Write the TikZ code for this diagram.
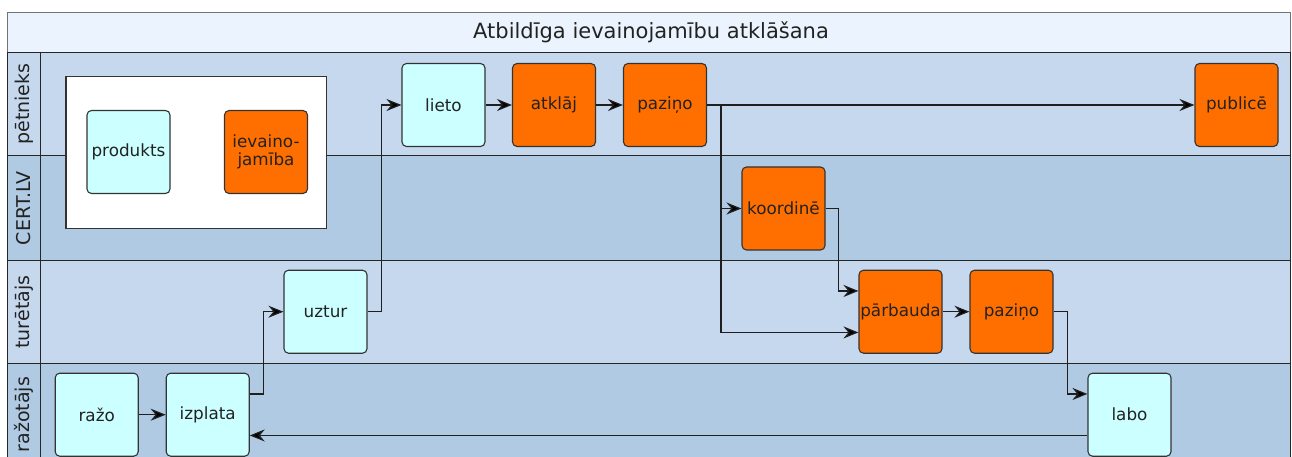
\documentclass[tikz,border=0pt]{standalone}
\usepackage{fontspec}
\setmainfont{DejaVu Sans}
\usetikzlibrary{arrows.meta}

\definecolor{titlebg}{RGB}{235,244,254}
\definecolor{lanelight}{RGB}{198,216,238}
\definecolor{lanedark}{RGB}{175,202,226}
\definecolor{actorange}{RGB}{255,111,0}
\definecolor{actcyan}{RGB}{204,255,255}
\definecolor{edgegray}{RGB}{51,51,51}
\definecolor{textgray}{RGB}{34,34,34}

\tikzset{
  task/.style={draw=edgegray, line width=1.1pt, rounded corners=4.5pt,
    minimum width=83pt, minimum height=83pt, inner sep=0pt, align=center,
    text=textgray, font=\fontsize{16.8}{18.5}\selectfont},
  ours/.style={task, fill=actorange},
  theirs/.style={task, fill=actcyan},
  conn/.style={draw=black!88, line width=1.2pt,
    -{Stealth[length=15pt, width=12pt, inset=5pt, fill=black]}},
  laneline/.style={draw=black!85, line width=1.1pt},
  lanelabel/.style={rotate=90, text=textgray, font=\fontsize{19}{21}\selectfont},
}

\begin{document}
\begin{tikzpicture}[x=1pt, y=-1pt]
\useasboundingbox (0,0) rectangle (1292,457);
\begin{scope}
\clip (0,0) rectangle (1292,457);

% swim lanes
\fill[titlebg]   (7.3,12.3)  rectangle (1290.5,52.7);
\fill[lanelight] (7.3,52.7)  rectangle (1290.5,155.7);
\fill[lanedark]  (7.3,155.7) rectangle (1290.5,260.5);
\fill[lanelight] (7.3,260.5) rectangle (1290.5,363.3);
\fill[lanedark]  (7.3,363.3) rectangle (1290.5,480);

\draw[draw=black!55, line width=1pt] (7.3,52.7) -- (7.3,12.3) -- (1290.5,12.3) -- (1290.5,52.7);
\draw[laneline] (7.3,52.7) -- (1290.5,52.7);
\draw[laneline] (7.3,155.7) -- (1290.5,155.7);
\draw[laneline] (7.3,260.5) -- (1290.5,260.5);
\draw[laneline] (7.3,363.3) -- (1290.5,363.3);
\draw[laneline] (7.3,52.7) -- (7.3,480);
\draw[laneline] (40.7,52.7) -- (40.7,480);
\draw[laneline] (1290.5,52.7) -- (1290.5,480);

\node[font=\fontsize{21}{24}\selectfont, text=textgray] (title) at (651,32.5) {Atbildīga ievainojamību atklāšana};

\node[lanelabel] (l1) at (24,104) {pētnieks};
\node[lanelabel] (l2) at (24,208.1) {CERT.LV};
\node[lanelabel] (l3) at (24,311.9) {turētājs};
\node[lanelabel] (l4) at (24,414.7) {ražotājs};

% legend
\node[draw=edgegray, line width=1.1pt, fill=white, minimum width=260.7pt,
      minimum height=151.6pt, inner sep=0pt] (legend) at (196.35,152.5) {};
\node[theirs] (produkts) at (128.5,152) {produkts};
\node[ours]   (ievainojamiba) at (266,152) {ievaino-\\jamība};

% activities
\node[theirs] (razo)     at (96.7,414.7)  {ražo};
\node[theirs] (izplata)  at (207.7,414.7) {izplata};
\node[theirs] (uztur)    at (325.5,311.7) {uztur};
\node[theirs] (lieto)    at (443.5,105)   {lieto};
\node[ours]   (atklaj)   at (554,105)     {atklāj};
\node[ours]   (pazino)   at (665,105)     {paziņo};
\node[ours]   (publice)  at (1236.5,105)  {publicē};
\node[ours]   (koordine) at (783.5,208.5) {koordinē};
\node[ours]   (parbauda) at (900.5,311.7) {pārbauda};
\node[ours]   (pazino2)  at (1011.5,311.7){paziņo};
\node[theirs] (labo)     at (1129.5,414.7){labo};

% flow
\draw[conn] (razo.east) -- (izplata.west);
\draw[conn] ([yshift=20.75pt]izplata.east) -- ++(13.5,0) |- (uztur.west);
\draw[conn] (uztur.east) -- ++(13.7,0) |- (lieto.west);
\draw[conn] (lieto.east) -- (atklaj.west);
\draw[conn] (atklaj.east) -- (pazino.west);
\draw[conn] (pazino.east) -- (publice.west);
\coordinate (split) at ([xshift=14pt]pazino.east);
\coordinate (branch) at (split |- koordine.west);
\draw[conn] (split) -- (branch) -- (koordine.west);
\draw[conn] (branch) |- ([yshift=-20.75pt]parbauda.west);
\draw[conn] (koordine.east) -- ++(13,0) |- ([yshift=20.75pt]parbauda.west);
\draw[conn] (parbauda.east) -- (pazino2.west);
\draw[conn] (pazino2.east) -- ++(14,0) |- ([yshift=20.75pt]labo.west);
\draw[conn] ([yshift=-20.75pt]labo.west) -- ([yshift=-20.75pt]izplata.east);
\end{scope}
\end{tikzpicture}
\end{document}
